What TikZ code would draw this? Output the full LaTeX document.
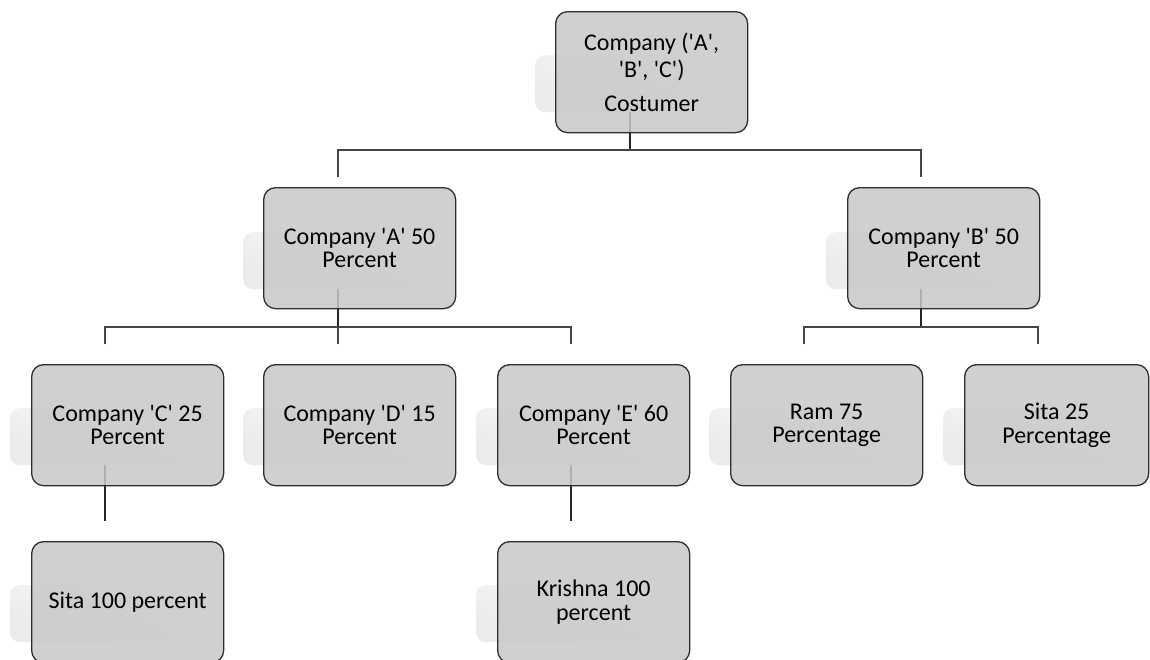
\documentclass[tikz,border=0pt]{standalone}
\usepackage{fontspec}
\setmainfont{Carlito}[Ligatures=TeXOff]
\definecolor{boxfill}{RGB}{200,200,200}
\definecolor{boxline}{RGB}{45,45,45}
\definecolor{linec}{RGB}{70,70,70}
\begin{document}
\begin{tikzpicture}[x=1pt,y=-1pt,
  box/.style={draw=boxline, line width=1.3pt, fill=boxfill, fill opacity=0.85, text opacity=1,
    rounded corners=12pt, minimum width=192pt, minimum height=121pt, inner sep=0pt,
    align=center, font=\fontsize{24}{23.5}\selectfont, anchor=north west},
  shadowbox/.style={rounded corners=10pt, minimum width=190pt, minimum height=57pt,
    top color=white, bottom color=black!8, shading angle=-30, inner sep=0pt, anchor=north},
  conn/.style={draw=linec, line width=1.5pt},
  pconn/.style={draw=black!85, line width=1.5pt}]
\useasboundingbox (0,0) rectangle (1150,659);

% shadows
\node[shadowbox] (shTop) at (630,55) {};
\node[shadowbox] (shA) at (338,232) {};
\node[shadowbox] (shB) at (921,232) {};
\node[shadowbox] (shC) at (105,408) {};
\node[shadowbox] (shD) at (338,408) {};
\node[shadowbox] (shE) at (571,408) {};
\node[shadowbox] (shR) at (804,408) {};
\node[shadowbox] (shS) at (1038,408) {};
\node[shadowbox] (shS1) at (105,585) {};
\node[shadowbox] (shK) at (571,585) {};

% connector coordinates
\coordinate (bar1) at (0,150);
\coordinate (bar2) at (0,327);
\coordinate (inA) at (338,177);
\coordinate (inB) at (921,177);
\coordinate (inC) at (105,344);
\coordinate (inD) at (338,344);
\coordinate (inE) at (571,344);
\coordinate (inR) at (804,344);
\coordinate (inS) at (1038,344);
\coordinate (inS1) at (105,521);
\coordinate (inK) at (571,521);

% connectors
\draw[pconn] (shTop.south) -- (shTop.south |- bar1);
\draw[conn] (inA) |- (bar1 -| inB) -- (inB);
\draw[pconn] (shA.south) -- (shA.south |- bar2);
\draw[conn] (inC) |- (bar2 -| inE) -- (inE);
\draw[conn] (inD) -- (inD |- bar2);
\draw[pconn] (shB.south) -- (shB.south |- bar2);
\draw[conn] (inR) |- (bar2 -| inS) -- (inS);
\draw[pconn] (shC.south) -- (inS1);
\draw[pconn] (shE.south) -- (inK);

% boxes
\node[box, font=\fontsize{24}{27}\selectfont] (top) at (555,11) {Company ('A',\\'B', 'C')\\[7pt]Costumer};
\node[box] (A) at (263,187) {Company 'A' 50\\Percent};
\node[box] (B) at (847,187) {Company 'B' 50\\Percent};
\node[box] (C) at (31,364) {Company 'C' 25\\Percent};
\node[box] (D) at (263,364) {Company 'D' 15\\Percent};
\node[box] (E) at (497,364) {Company 'E' 60\\Percent};
\node[box] (R) at (730,364) {Ram 75\\Percentage};
\node[box, minimum width=184pt] (S) at (964,364) {Sita 25\\Percentage};
\node[box] (S1) at (31,541) {Sita 100 percent};
\node[box] (K) at (497,541) {Krishna 100\\percent};
\end{tikzpicture}
\end{document}
